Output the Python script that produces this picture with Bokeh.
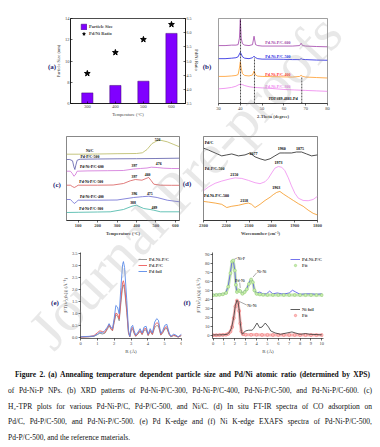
from bokeh.plotting import figure
from bokeh.models import Range1d, Label, Legend, LegendItem, LinearAxis, Div, FixedTicker, NumeralTickFormatter
from bokeh.layouts import column, row
from bokeh.embed import file_html
from bokeh.resources import INLINE

SERIF = "Liberation Serif"

# ---------------- data ----------------
# (a)
temps = [300, 400, 500, 600]
particle_size = [7.0, 7.7, 8.1, 12.6]
pdni_ratio = [4.56, 5.30, 5.76, 6.29]

# (b) XRD
xrd_x_sharp = [30, 33, 36, 38, 39, 39.6, 40, 40.4, 41, 42, 44, 45.6, 46.3, 47, 48, 50, 55, 60, 64, 67.2, 67.9, 68.6, 70, 75, 80]
xrd_600 = [62, 62, 62.5, 62.5, 63, 70, 90, 70, 64, 62.5, 62, 63, 72, 63, 62, 61.5, 61.5, 61.5, 61.5, 62, 64.5, 62, 61.5, 61, 60.7]
xrd_500 = [48, 48, 48.5, 49, 50, 53, 54.7, 53, 50, 48.5, 48, 49, 50.7, 49, 48, 47.5, 47.5, 47.3, 47, 47, 48, 47.2, 47, 46.5, 46.3]
xrd_400 = [29, 29, 29.5, 30, 31, 38, 44.7, 38, 32, 30, 29.5, 30.5, 34.7, 30.5, 29.3, 29, 28.7, 28.5, 28.3, 29, 30.2, 29, 28.3, 27.8, 27.3]
xrd_x_broad = [30, 33, 36, 38, 39, 40, 41, 42, 44, 46, 48, 50, 55, 60, 65, 70, 75, 80]
xrd_300 = [15.7, 16.2, 17.2, 18.5, 19.8, 20.7, 20.2, 19.2, 18, 17.3, 17, 16.7, 16, 15, 14.5, 14, 13.5, 13]
pdf_pos = [40.1, 46.5, 68.2]
pdf_top = [91, 49, 29]

# (c) H2-TPR
nic_x = [40, 100, 200, 300, 400, 430, 454, 480, 506, 523, 558, 592, 621]
nic_y = [66.3, 66.3, 66.5, 66.8, 67, 67.7, 71, 77, 79.7, 80.3, 78.7, 76, 73.7]
pdp_x = [40, 57, 71, 78, 83, 88, 95, 110, 200, 300, 400, 500, 621]
pdp_y = [61, 61, 59.7, 53.7, 51, 55.3, 60.3, 61.3, 61.5, 61.7, 61.8, 62, 62.3]
t600_x = [40, 60, 70, 78, 85, 95, 150, 250, 332, 385, 420, 454, 476, 506, 540, 580, 621]
t600_y = [49.3, 49.3, 47, 44.3, 45.5, 49.3, 49.6, 49.8, 50, 51.5, 52, 52.5, 53.3, 53, 52.3, 52, 52]
t500_x = [40, 60, 70, 80, 90, 100, 200, 280, 333, 368, 394, 428, 455, 463, 475, 489, 523, 580, 621]
t500_y = [35.3, 35.3, 34, 33, 34, 35.3, 35.3, 35.5, 37, 39.7, 41, 40.3, 42.5, 43, 40, 36.3, 35.3, 35.2, 35.2]
t400_x = [40, 60, 70, 80, 90, 100, 200, 300, 385, 430, 463, 506, 558, 621]
t400_y = [21, 21, 19, 17, 18.5, 20.3, 20.3, 20.5, 23, 23.8, 24.3, 23, 20.3, 18.7]
t300_x = [40, 100, 200, 265, 333, 377, 399, 437, 470, 489, 523, 621]
t300_y = [8, 8.2, 8.5, 8.7, 11, 14.3, 15.3, 12, 11, 10.3, 8.7, 8.7]

# (d) FT-IR
ir_x = [2300, 2278, 2249, 2220, 2198, 2176, 2147, 2118, 2096, 2074, 2052, 2030, 2008, 1987, 1965, 1943, 1914, 1892, 1870, 1848, 1826, 1800]
ir_pdc = [74.7, 72.7, 69.7, 66.7, 67.7, 68.7, 66.7, 67.7, 69.7, 65.7, 63.7, 62.2, 63.7, 66.7, 69.7, 69.7, 69.7, 70.7, 70.7, 68.7, 66.7, 67.7]
ir_pdp_x = [2300, 2278, 2249, 2220, 2183, 2161, 2132, 2103, 2074, 2052, 2030, 2016, 2001, 1987, 1972, 1957, 1943, 1928, 1914, 1899, 1884, 1863, 1841, 1819, 1800]
ir_pdp = [30.7, 34.7, 38.4, 40.7, 43, 44, 43.4, 41.4, 39, 38, 40, 43.4, 49, 54, 55.7, 55, 51.4, 44, 35.7, 28, 23, 20.7, 20.4, 21.7, 25]
ir_pdni_x = [2300, 2278, 2249, 2220, 2198, 2176, 2147, 2118, 2103, 2089, 2074, 2052, 2030, 2008, 1994, 1979, 1965, 1950, 1928, 1906, 1884, 1863, 1841, 1819, 1800]
ir_pdni = [19.7, 19, 18, 16.7, 13.4, 14.7, 15.7, 17.4, 18, 16.7, 13.4, 16.7, 20.7, 24, 26.7, 29, 30, 27.4, 24, 20.7, 17.4, 14.7, 10.7, 7.4, 5.7]

# (e) Pd K-edge EXAFS
e_r = [0, 0.5, 0.8, 1.0, 1.15, 1.3, 1.45, 1.6, 1.7, 1.8, 1.9, 2.0, 2.1, 2.2, 2.3, 2.4, 2.5, 2.55, 2.62, 2.75,
       2.85, 2.93, 3.02, 3.1, 3.18, 3.28, 3.42, 3.54, 3.66, 3.78, 3.9, 4.02, 4.14, 4.27, 4.41, 4.53, 4.63, 4.77,
       4.89, 5.01, 5.13, 5.27, 5.37, 5.53, 5.67, 5.8, 6.0]
e_pdfoil = [0.03, 0.05, 0.06, 0.14, 0.23, 0.19, 0.30, 0.44, 0.58, 0.44, 0.37, 0.79, 1.34, 1.27, 0.99, 2.09, 3.05, 3.17, 2.92, 1.54,
            0.30, 0.05, 0.44, 0.51, 0.30, 0.10, 0.23, 0.37, 0.19, 0.44, 0.47, 0.14, 0.37, 0.19, 0.65, 0.79, 0.72, 0.17,
            0.30, 0.51, 0.55, 0.19, 0.05, 0.14, 0.10, 0.03, 0.14]
e_pdp = [0.02, 0.04, 0.08, 0.20, 0.28, 0.25, 0.22, 0.40, 0.55, 0.40, 0.30, 0.70, 1.02, 0.98, 0.78, 1.60, 2.30, 2.37, 2.15, 1.15,
         0.22, 0.04, 0.38, 0.42, 0.22, 0.06, 0.18, 0.30, 0.14, 0.36, 0.38, 0.10, 0.30, 0.14, 0.52, 0.62, 0.58, 0.12,
         0.24, 0.42, 0.45, 0.14, 0.04, 0.10, 0.07, 0.02, 0.10]
e_pdnip = [0.02, 0.03, 0.05, 0.12, 0.18, 0.15, 0.18, 0.35, 0.50, 0.36, 0.28, 0.62, 0.95, 0.90, 0.70, 1.45, 2.12, 2.20, 2.00, 1.05,
           0.18, 0.03, 0.32, 0.36, 0.18, 0.05, 0.15, 0.26, 0.12, 0.30, 0.32, 0.08, 0.26, 0.12, 0.42, 0.50, 0.48, 0.10,
           0.20, 0.36, 0.38, 0.12, 0.03, 0.08, 0.06, 0.02, 0.08]

# (f) Ni K-edge EXAFS
f_r_cat = [0, 0.5, 1.0, 1.2, 1.4, 1.6, 1.75, 1.85, 2.0, 2.1, 2.2, 2.35, 2.5, 2.7, 2.9, 3.1, 3.3, 3.5, 3.65, 3.8, 4.0,
           4.3, 4.6, 4.9, 5.2, 5.5, 5.9, 6.3, 6.6, 7.0, 7.3, 7.6, 8.0, 8.5, 9.0, 9.5, 10.0]
f_cat = [45, 45.5, 46, 48, 55, 70, 83, 84, 72, 55, 47, 51, 50, 47, 49, 52, 58, 63, 60, 50, 47,
         48, 46, 46, 49, 46, 47, 46, 46, 47, 50, 48, 45.5, 46, 46, 45.5, 46]
f_r_catfit = [0, 0.3, 0.6, 0.9, 1.2, 1.4, 1.6, 1.75, 1.85, 2.0, 2.1, 2.2, 2.35, 2.5, 2.7, 2.9, 3.1, 3.3, 3.5, 3.65, 3.8,
              4.0, 4.3, 4.6, 5.0, 5.5, 6.0, 6.5, 7.0, 7.5, 8.0, 8.5, 9.0, 9.5, 10.0]
f_catfit = [44.5, 44.8, 45, 45.5, 47, 54, 69, 82, 83, 72, 56, 48, 50, 49, 46, 48, 51, 57, 62, 59, 50,
            46, 45.3, 45, 44.8, 44.8, 44.7, 44.7, 44.7, 44.7, 44.6, 44.6, 44.6, 44.6, 44.6]
f_r_foil = [0, 0.5, 1.0, 1.3, 1.5, 1.7, 1.9, 2.05, 2.2, 2.3, 2.4, 2.5, 2.6, 2.7, 2.97, 3.27, 3.58, 3.73, 4.04, 4.28, 4.5,
            4.8, 5.1, 5.3, 5.7, 6.2, 6.8, 7.25, 7.55, 8.0, 8.5, 8.9, 10.0]
f_foil = [0.3, 0.3, 0.5, 1, 3, 8, 20, 33, 39, 37, 28, 14, 4, 1, 4.7, 5.5, 5.5, 7.3, 13.5, 8.4, 9,
          13.5, 9, 4.7, 2.5, 1, 2.5, 3.6, 2.5, 1, 1.8, 1, 0.4]
f_r_foilfit = [0, 0.3, 0.6, 0.9, 1.2, 1.4, 1.6, 1.75, 1.9, 2.05, 2.2, 2.3, 2.4, 2.5, 2.6, 2.75, 3.0, 3.5, 4.0, 4.5,
               5.0, 5.5, 6.0, 6.5, 7.0, 7.5, 8.0, 8.5, 9.0, 9.5, 10.0]
f_foilfit = [0, 0, 0.1, 0.3, 0.6, 1.5, 4, 9, 19, 32, 38.5, 36, 27, 13, 4, 1, 0.5, 0.4, 0.4, 0.3,
             0.3, 0.2, 0.2, 0.2, 0.2, 0.2, 0.1, 0.1, 0.1, 0.1, 0.1]


# ---------------- helpers ----------------
def mk(w, h, xr, yr, bl, br, bt, bb, outline=None):
    p = figure(width=w, height=h, x_range=xr, y_range=yr, output_backend="svg",
               toolbar_location=None, title=None,
               min_border_left=bl, min_border_right=br, min_border_top=bt, min_border_bottom=bb,
               x_axis_location=None, y_axis_location=None)
    p.grid.visible = False
    p.outline_line_color = outline
    p.outline_line_width = 0.7
    p.border_fill_color = "white"
    p.background_fill_color = "white"
    return p


def axis(p, side, ticks, fmt=None, title=None, fs="4.5px", tfs="4.5px", bold=False, tbold=False,
         range_name=None, tick_in=2, tick_out=0):
    kw = {}
    if range_name:
        kw["y_range_name"] = range_name
    ax = LinearAxis(ticker=FixedTicker(ticks=ticks), **kw)
    if fmt:
        ax.formatter = NumeralTickFormatter(format=fmt)
    ax.axis_label = title
    ax.axis_label_text_font = SERIF
    ax.axis_label_text_font_size = tfs
    ax.axis_label_text_font_style = "bold" if tbold else "normal"
    ax.axis_label_standoff = 1
    ax.major_label_text_font = SERIF
    ax.major_label_text_font_size = fs
    ax.major_label_text_font_style = "bold" if bold else "normal"
    ax.major_label_standoff = 1
    ax.major_tick_in = tick_in
    ax.major_tick_out = tick_out
    ax.minor_tick_in = 0
    ax.minor_tick_out = 0
    ax.axis_line_width = 0.6
    ax.major_tick_line_width = 0.6
    p.add_layout(ax, side)
    return ax


def dlabel(p, x, y, text, size="4px", color="black", bold=True, align="left"):
    p.add_layout(Label(x=x, y=y, text=text, text_font=SERIF, text_font_size=size,
                       text_font_style="bold" if bold else "normal", text_color=color,
                       text_align=align, text_baseline="middle"))


def legend(p, items, loc, rowh=6, gw=8, fs="4.5px", bold=True):
    lg = Legend(items=items, location=loc, padding=0, margin=0, spacing=0,
                label_height=rowh, glyph_height=rowh, glyph_width=gw, label_standoff=2,
                label_text_font=SERIF, label_text_font_size=fs,
                label_text_font_style="bold" if bold else "normal",
                border_line_color=None, background_fill_alpha=0)
    p.add_layout(lg, "center")
    return lg


# ---------------- (a) ----------------
pa = mk(198, 114, Range1d(240, 650), Range1d(6, 14), 62, 21, 10, 19, outline="black")
pa.extra_y_ranges = {"r": Range1d(3.5, 6.5)}
bars = pa.vbar(x=temps, top=particle_size, bottom=6, width=40, fill_color="#8000ff", line_color="#3a0070", line_width=0.5)
stars = pa.scatter(x=temps, y=pdni_ratio, marker="star", size=6, color="black", y_range_name="r")
axis(pa, "below", temps, title="Temperature (°C)")
axis(pa, "left", [6, 8, 10, 12, 14], title="Particle Size (nm)")
axis(pa, "right", [3.5, 4.0, 4.5, 5.0, 5.5, 6.0, 6.5], fmt="0.0", range_name="r", fs="4px")
legend(pa, [LegendItem(label="Particle Size", renderers=[bars]), LegendItem(label="Pd/Ni Ratio", renderers=[stars])],
       (10, 66), rowh=7, gw=7)

# ---------------- (b) ----------------
pb = mk(166, 114, Range1d(30, 80), Range1d(0, 91), 12, 45, 5, 18, outline="#777777")
pb.line(xrd_x_sharp, xrd_600, color="#a040a8", line_width=0.8)
pb.line(xrd_x_sharp, xrd_500, color="#2020e0", line_width=0.8)
pb.line(xrd_x_sharp, xrd_400, color="#ff9a2a", line_width=0.8)
pb.line(xrd_x_broad, xrd_300, color="#ee82ee", line_width=0.8)
pb.segment(x0=pdf_pos, y0=[0, 0, 0], x1=pdf_pos, y1=pdf_top, color="black", line_width=0.7, line_dash="2 1")
axis(pb, "below", [30, 40, 50, 60, 70, 80], title="2-Theta (degree)", tbold=True, tick_in=0, tick_out=2)
for (y, txt, col) in [(65, "Pd-Ni-P/C-600", "#a040a8"), (50.7, "Pd-Ni-P/C-500", "#2020e0"),
                      (31.3, "Pd-Ni-P/C-400", "#ff2a2a"), (18, "Pd-Ni-P/C-300", "#ee82ee")]:
    dlabel(pb, 51.5, y, txt, size="4px", color=col)
dlabel(pb, 53, 5.7, "PDF#89-4881-Pd", size="4px")

# ---------------- (c) ----------------
pc = mk(173, 120, Range1d(40, 621), Range1d(0, 84), 58, 2, 14, 22, outline="#555555")
pc.line(nic_x, nic_y, color="#b8b860", line_width=0.8)
pc.line(pdp_x, pdp_y, color="#5a5aa8", line_width=0.8)
pc.line(t600_x, t600_y, color="#d070d8", line_width=0.8)
pc.line(t500_x, t500_y, color="#d85a5a", line_width=0.8)
pc.line(t400_x, t400_y, color="#6a6ad0", line_width=0.8)
pc.line(t300_x, t300_y, color="#40b4a4", line_width=0.8)
axis(pc, "below", [100, 200, 300, 400, 500, 600], title="Temperature (°C)", bold=True, tbold=True, tick_in=0, tick_out=2)
for (x, y, t, al) in [(140, 70, "Ni/C", "left"), (112, 64, "Pd-P/C-500", "left"), (109, 53.5, "Pd-Ni-P/C-600", "left"),
                      (106, 38.5, "Pd-Ni-P/C-500", "left"), (109, 24, "Pd-Ni-P/C-400", "left"),
                      (106, 12, "Pd-Ni-P/C-300", "left"), (508, 81.5, "526", "center"), (389, 55.5, "397", "center"),
                      (514, 57, "476", "center"), (389, 44.5, "397", "center"), (457, 46, "460", "center"),
                      (389, 27.3, "396", "center"), (468, 27.3, "475", "center"), (382, 18.3, "388", "center"),
                      (492, 13.3, "489", "center")]:
    dlabel(pc, x, y, t, size="3.8px", align=al)

# ---------------- (d) ----------------
pd_ = mk(191, 120, Range1d(2300, 1800), Range1d(0, 86.7), 22, 55, 12, 21, outline="#555555")
pd_.line(ir_x, ir_pdc, color="#222222", line_width=0.8)
pd_.line(ir_pdp_x, ir_pdp, color="#f08cf0", line_width=0.8)
pd_.line(ir_pdni_x, ir_pdni, color="#f5961e", line_width=0.8)
axis(pd_, "below", [2300, 2200, 2100, 2000, 1900, 1800], title="Wavenumber (cm⁻¹)", bold=True, tbold=True,
     tick_in=0, tick_out=2)
for (x, y, t, al) in [(2295, 80.7, "Pd/C", "left"), (2081, 69.5, "2077", "center"), (1957, 73.8, "1960", "center"),
                      (1877, 74.8, "1875", "center"), (2295, 53.4, "Pd-P/C-500", "left"),
                      (2165, 47.8, "2150", "center"), (1971, 59.8, "1973", "center"),
                      (2298, 25.7, "Pd-Ni-P/C-500", "left"), (2122, 20.5, "2118", "center"),
                      (1981, 34.5, "1963", "center")]:
    dlabel(pd_, x, y, t, size="4px", align=al)

# ---------------- (e) ----------------
pe = mk(174, 116, Range1d(0, 6), Range1d(-0.04, 3.55), 72, 1, 10, 20)
r_g = pe.line(e_r, e_pdnip, color="#8a8a8a", line_width=0.9)
r_r = pe.line(e_r, e_pdp, color="#ee5a5a", line_width=0.9)
r_b = pe.line(e_r, e_pdfoil, color="#5a8ae8", line_width=0.9)
axis(pe, "below", [0, 1, 2, 3, 4, 5, 6], title="R (Å)", tfs="5px", tick_in=0, tick_out=2)
axis(pe, "left", [0, 0.5, 1.0, 1.5, 2.0, 2.5, 3.0, 3.5], fmt="0.0", title="|FT(k³χ(k))| (Å⁻⁴)", tfs="5px",
     tick_in=0, tick_out=2)
legend(pe, [LegendItem(label="Pd-Ni-P/C", renderers=[r_g]), LegendItem(label="Pd-P/C", renderers=[r_r]),
            LegendItem(label="Pd foil", renderers=[r_b])], (58, 64), rowh=6, gw=9)

# ---------------- (f) ----------------
pf = mk(190, 116, Range1d(-0.05, 10.15), Range1d(-3.7, 92), 30, 49, 8, 20)
pf.line(f_r_catfit, f_catfit, color="#b8e0a0", line_width=3, alpha=0.8)
r_cat = pf.line(f_r_cat, f_cat, color="#5050e8", line_width=0.8)
r_cfit = pf.scatter(f_r_catfit, f_catfit, marker="circle", size=3, line_color="#90cc70", fill_color="#c8ecb0",
                    line_width=0.5)
pf.line(f_r_foilfit, f_foilfit, color="#f8a8a8", line_width=3, alpha=0.8)
r_ffit = pf.scatter(f_r_foilfit, f_foilfit, marker="circle", size=3, line_color="#f07070", fill_color="#fbc0c0",
                    line_width=0.5)
r_foil = pf.line(f_r_foil, f_foil, color="#333333", line_width=0.8)
axis(pf, "below", list(range(0, 11)), title="R (Å)", tfs="5px", tick_in=0, tick_out=2)
axis(pf, "left", list(range(0, 91, 10)), title="|FT(k²χ(k))| (Å⁻³)", tfs="5px", tick_in=0, tick_out=2)
legend(pf, [LegendItem(label="Pd-Ni-P/C", renderers=[r_cat]), LegendItem(label="Fit", renderers=[r_cfit])],
       (78, 70), rowh=6, gw=10)
legend(pf, [LegendItem(label="Ni foil", renderers=[r_foil]), LegendItem(label="Fit", renderers=[r_ffit])],
       (78, 20), rowh=6, gw=10)
lead_x0 = [1.95, 2.5, 3.67, 2.4]
lead_y0 = [84.5, 52.5, 64.6, 37.6]
lead_x1 = [2.2, 2.45, 4.0, 3.1]
lead_y1 = [85.8, 58.5, 69.3, 33.5]
pf.segment(lead_x0, lead_y0, lead_x1, lead_y1, color="#555555", line_width=0.5)
for (x, y, t) in [(2.25, 85.8, "Ni-P"), (2.05, 61.3, "Pd-Ni"), (4.05, 70.4, "Ni-Ni"), (3.15, 32.8, "Ni-Ni")]:
    dlabel(pf, x, y, t, size="4px", bold=False)

# ---------------- caption + overlay texts ----------------
CAP_TOP = 358  # page y of the caption block
CAP_LEFT = 8


def overlay(px, py, text, css):
    return (f'<div style="position:absolute;left:{px - CAP_LEFT}px;top:{py - CAP_TOP}px;'
            f'transform:translate(-50%,-50%){css.get("rot", "")};white-space:nowrap;pointer-events:none;'
            f'z-index:10;font-family:\'Liberation Serif\';font-size:{css["fs"]};font-weight:{css.get("fw", "normal")};'
            f'color:{css.get("col", "#111")};line-height:1;">{text}</div>')


lines = [
    ("<b>Figure 2. (a) Annealing temperature dependent particle size and Pd/Ni atomic ratio (determined by XPS)</b>", 7, 2, True),
    ("of Pd-Ni-P NPs. (b) XRD patterns of Pd-Ni-P/C-300, Pd-Ni-P/C-400, Pd-Ni-P/C-500, and Pd-Ni-P/C-600. (c)", 0, 0, True),
    ("H₂-TPR plots for various Pd-Ni-P/C, Pd-P/C-500, and Ni/C. (d) In situ FT-IR spectra of CO adsorption on", 0, 0, True),
    ("Pd/C, Pd-P/C-500, and Pd-Ni-P/C-500. (e) Pd K-edge and (f) Ni K-edge EXAFS spectra of Pd-Ni-P/C-500,", 0, 0, True),
    ("Pd-P/C-500, and the reference materials.", 0, 0, False),
]
html = ['<div style="position:relative;width:364px;height:81px;padding-top:9px;box-sizing:border-box;'
        'font-family:\'Liberation Serif\';font-size:7.5px;line-height:15.8px;color:#111;">']
for (t, ml, mr, just) in lines:
    al = "justify" if just else "left"
    html.append(f'<div style="margin-left:{ml}px;margin-right:{mr}px;white-space:nowrap;text-align:{al};'
                f'text-align-last:{al};height:15.8px;">{t}</div>')

panel_tags = [("(a)", 52, 67), ("(b)", 207, 67), ("(c)", 57, 185), ("(d)", 187, 184), ("(e)", 55, 303), ("(f)", 187, 303)]
for (t, x, y) in panel_tags:
    html.append(overlay(x, y, t, {"fs": "7px", "fw": "bold", "col": "#1c1c70"}))
html.append(overlay(196, 60, "Pd/Ni Ratio", {"fs": "4.5px", "rot": " rotate(90deg)"}))
wm = {"fs": "58px", "rot": " rotate(-47deg)", "col": "rgba(150,150,150,0.22)"}
html.append(overlay(98, 277, "Journal", wm))
html.append(overlay(198, 168, "Pre-", wm))
html.append(overlay(281, 78, "proofs", wm))
html.append('</div>')
cap = Div(text="".join(html), width=364, height=81, margin=(0, 0, 0, 0))

layout = column(row(pa, pb), row(pc, pd_), row(pe, pf), cap, margin=(8, 8, 8, 8))
open("out.html", "w").write(file_html(layout, INLINE))
